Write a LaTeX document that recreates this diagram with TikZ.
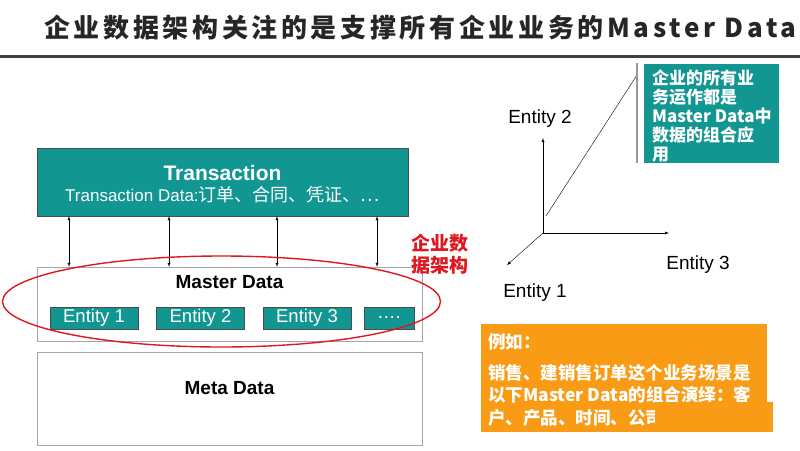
\documentclass[tikz,border=0pt]{standalone}
\usepackage{fontspec}
\setmainfont{Liberation Sans}
\newfontfamily\cjk{Noto Sans CJK SC}
\newfontfamily\cjktitle{Noto Sans CJK SC}[LetterSpace=14]
\definecolor{mdteal}{RGB}{18,150,146}
\definecolor{mdorange}{RGB}{249,155,20}
\definecolor{mdred}{RGB}{222,24,32}

\begin{document}
\begin{tikzpicture}
[
    x=1pt, y=-1pt,
    tealbox/.style={draw=gray!60!black, fill=mdteal, text=white, inner sep=0pt},
    entitybox/.style={tealbox, minimum width=88pt, minimum height=22pt, font=\fontsize{18.5}{18.5}\selectfont},
    whitebox/.style={draw=gray!70, fill=white, inner sep=0pt},
    link/.style={latex-latex, thin},
    axis/.style={-latex, thin},
    label/.style={font=\fontsize{19}{19}\selectfont},
]
\useasboundingbox (0,0) rectangle (800,450);

% title
\node [anchor=west, inner sep=0pt, font=\cjktitle\bfseries\fontsize{26}{26}\selectfont, text=black!85]
    (title) at (44,28) {企业数据架构关注的是支撑所有企业业务的Master Data};
\draw [line width=3pt, black!75] (0,56) -- (800,56);

% left stack
\node [tealbox, minimum width=371pt, minimum height=68pt] (trans) at (222.5,182) {};
\node [text=white, font=\bfseries\fontsize{21}{21}\selectfont] (transname) at (222.5,173) {Transaction};
\node [text=white, font=\fontsize{17}{17}\selectfont] (transdata) at (222.5,195)
    {Transaction Data:{\cjk\fontsize{18}{18}\selectfont 订单、合同、凭证、…}};

\node [whitebox, minimum width=385pt, minimum height=74pt] (master) at (229.5,304) {};
\node [font=\bfseries\fontsize{19}{19}\selectfont] (mastername) at (229.5,282) {Master Data};
\node [entitybox] (ent1) at (94,318) {Entity 1};
\node [entitybox] (ent2) at (200.5,318) {Entity 2};
\node [entitybox] (ent3) at (307,318) {Entity 3};
\node [entitybox, minimum width=50pt] (entmore) at (389,318) {\dots.};

\foreach \x in {69,169,277,377}
    \draw [link] (\x,0 |- trans.south) -- (\x,0 |- master.north);

\node [whitebox, minimum width=385pt, minimum height=93pt] (meta) at (229.5,398.5) {};
\node [font=\bfseries\fontsize{19}{19}\selectfont] (metaname) at (229.5,388) {Meta Data};

\draw [mdred, line width=1.4pt] (221.5,301.5) ellipse [x radius=219, y radius=45.5];
\node [align=center, text=mdred, font=\cjk\bfseries\fontsize{19}{22}\selectfont] (eda) at (440,254) {企业数\\据架构};

% entity space
\coordinate (origin) at (543,233);
\coordinate (ax2) at (543,138);
\coordinate (ax3) at (669,233);
\coordinate (ax1) at (507,265);
\draw [axis] (origin) -- (ax2);
\draw [axis] (origin) -- (ax3);
\draw [axis] (origin) -- (ax1);
\node [label] (lab2) at (540,119) {Entity 2};
\node [label] (lab3) at (698,265) {Entity 3};
\node [label] (lab1) at (535,293) {Entity 1};

\node [tealbox, draw=none, minimum width=135pt, minimum height=99pt] (note) at (711.5,113.5) {};
\node [anchor=north west, inner sep=0pt, align=left, text=white, font=\cjk\bfseries\fontsize{17}{19}\selectfont]
    (notetext) at (652,70) {企业的所有业\\务运作都是\\Master Data中\\数据的组合应\\用};
\coordinate (tip) at (637,75);
\draw [thin] (546,216) -- (tip);
\draw [line width=1.5pt, gray!80] (637,63) -- (637,163);

% example
\node [fill=mdorange, minimum width=286pt, minimum height=108pt, inner sep=0pt] (example) at (624,378) {};
\node [anchor=west, inner sep=0pt, text=white, font=\cjk\bfseries\fontsize{17.5}{17.5}\selectfont] (exhead) at (488,342) {例如：};
\node [anchor=north west, inner sep=0pt, align=left, text=white, font=\cjk\bfseries\fontsize{17.5}{22.5}\selectfont]
    (extext) at (488,364) {销售、建销售订单这个业务场景是\\以下Master Data的组合演绎：客\\户、产品、时间、公司};
\fill [mdorange] (655,402) rectangle (773,432);
\end{tikzpicture}
\end{document}
